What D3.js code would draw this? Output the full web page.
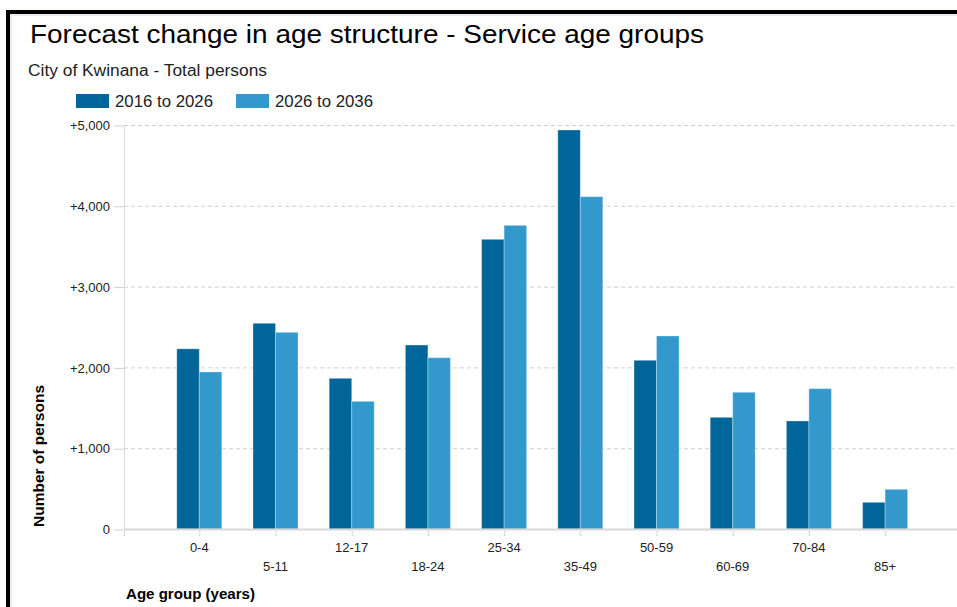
<!DOCTYPE html>
<html>
<head>
<meta charset="utf-8">
<script src="https://cdn.jsdelivr.net/npm/d3@7"></script>
<style>
  html, body { margin: 0; padding: 0; background: #fff; }
  svg { display: block; font-family: "Liberation Sans", Arial, sans-serif; }
</style>
</head>
<body>
<svg id="chart" width="957" height="607"></svg>
<script>
// Service age groups and forecast change in persons for each period
const categories = ["0-4", "5-11", "12-17", "18-24", "25-34", "35-49", "50-59", "60-69", "70-84", "85+"];
const seriesNames = ["2016 to 2026", "2026 to 2036"];
const change2016to2026 = [2230, 2546, 1865, 2277, 3585, 4938, 2088, 1382, 1337, 330];
const change2026to2036 = [1943, 2434, 1580, 2120, 3758, 4113, 2389, 1692, 1737, 491];
const yTicks = [0, 1000, 2000, 3000, 4000, 5000];
const seriesColors = ["#006699", "#3399cc"];

const svg = d3.select("#chart");
const W = 957, H = 607;

// Frame
svg.append("rect").attr("x", 0).attr("y", 0).attr("width", W).attr("height", H).attr("fill", "#fff");
svg.append("rect").attr("x", 6).attr("y", 10).attr("width", W - 6).attr("height", 4).attr("fill", "#000");
svg.append("rect").attr("x", 6).attr("y", 10).attr("width", 4).attr("height", H - 10).attr("fill", "#000");
svg.append("rect").attr("x", 10).attr("y", 14).attr("width", W - 10).attr("height", 2).attr("fill", "#e6edf3");
svg.append("rect").attr("x", 10).attr("y", 14).attr("width", 2).attr("height", H - 14).attr("fill", "#e6edf3");

// Titles
svg.append("text").attr("x", 30).attr("y", 43)
  .attr("font-size", 26.5).attr("fill", "#000")
  .attr("textLength", 674).attr("lengthAdjust", "spacingAndGlyphs")
  .text("Forecast change in age structure - Service age groups");
svg.append("text").attr("x", 28).attr("y", 76)
  .attr("font-size", 16).attr("fill", "#222")
  .attr("textLength", 239).attr("lengthAdjust", "spacingAndGlyphs")
  .text("City of Kwinana - Total persons");

// Legend
const legend = svg.append("g");
const legendX = [76, 236];
seriesNames.forEach((name, i) => {
  legend.append("rect").attr("x", legendX[i]).attr("y", 94).attr("width", 33).attr("height", 14)
    .attr("fill", seriesColors[i]);
  legend.append("text").attr("x", legendX[i] + 39).attr("y", 107)
    .attr("font-size", 16.5).attr("fill", "#222")
    .attr("textLength", 98).attr("lengthAdjust", "spacingAndGlyphs").text(name);
});

// Scales
const plotLeft = 124, plotRight = W, plotTop = 125, plotBottom = 529;
const step = 76.2;
const firstCenter = 199.3;
const x0 = d3.scaleBand().domain(categories)
  .range([firstCenter - step / 2, firstCenter + (categories.length - 0.5) * step])
  .paddingInner(0).paddingOuter(0);
const groupWidth = 45;
const x1 = d3.scaleBand().domain(seriesNames).range([0, groupWidth]);
const y = d3.scaleLinear().domain([0, 5000]).range([plotBottom, plotTop]);

// Gridlines
const grid = svg.append("g");
yTicks.filter(t => t > 0).forEach(t => {
  grid.append("line").attr("x1", plotLeft).attr("x2", plotRight)
    .attr("y1", y(t) + 0.5).attr("y2", y(t) + 0.5)
    .attr("stroke", "#cfcfcf").attr("stroke-dasharray", "4,3");
});

// Y axis
const yAxis = d3.axisLeft(y).tickValues(yTicks).tickSize(10).tickPadding(4)
  .tickFormat(d => d === 0 ? "0" : "+" + d3.format(",")(d));
const yg = svg.append("g").attr("transform", `translate(${plotLeft},0.5)`).call(yAxis);
yg.select(".domain").remove();
yg.selectAll(".tick line").attr("stroke", "#d0d0d0");
yg.selectAll(".tick text").attr("font-size", 13).attr("fill", "#222")
  .attr("font-family", "'Liberation Sans', Arial, sans-serif");
svg.append("line").attr("x1", plotLeft + 0.5).attr("x2", plotLeft + 0.5)
  .attr("y1", plotTop).attr("y2", plotBottom).attr("stroke", "#d8d8d8");

// Bars
const groups = svg.append("g").selectAll("g").data(categories).join("g")
  .attr("transform", c => `translate(${x0(c) + (x0.bandwidth() - groupWidth) / 2},0)`);
const seriesValues = [change2016to2026, change2026to2036];
groups.selectAll("rect")
  .data((c, ci) => seriesNames.map((s, si) => ({ s, si, v: seriesValues[si][ci] })))
  .join("rect")
  .attr("x", d => x1(d.s))
  .attr("width", x1.bandwidth())
  .attr("y", d => y(d.v))
  .attr("height", d => y(0) - y(d.v))
  .attr("fill", d => seriesColors[d.si])
  .attr("stroke", "#ffffff").attr("stroke-opacity", 0.3).attr("stroke-width", 1);

// X axis
svg.append("line").attr("x1", plotLeft).attr("x2", plotRight)
  .attr("y1", plotBottom + 0.5).attr("y2", plotBottom + 0.5)
  .attr("stroke", "#d8d8d8").attr("stroke-width", 2);
const xg = svg.append("g");
[plotLeft].concat(categories.map(c => x0(c) + x0.bandwidth() / 2)).forEach(px => {
  xg.append("line").attr("x1", px + 0.5).attr("x2", px + 0.5)
    .attr("y1", plotBottom + 2).attr("y2", plotBottom + 7)
    .attr("stroke", "#c8c8c8").attr("stroke-dasharray", "2,1");
});
categories.forEach((c, i) => {
  xg.append("text").attr("x", x0(c) + x0.bandwidth() / 2)
    .attr("y", i % 2 === 0 ? 551.5 : 570.5)
    .attr("text-anchor", "middle").attr("font-size", 13).attr("fill", "#222").text(c);
});

// Axis titles
svg.append("text").attr("x", 126).attr("y", 599)
  .attr("font-size", 14.5).attr("font-weight", "bold").attr("fill", "#000")
  .attr("textLength", 129).attr("lengthAdjust", "spacingAndGlyphs")
  .text("Age group (years)");
svg.append("text").attr("transform", "translate(44,527) rotate(-90)")
  .attr("font-size", 14).attr("font-weight", "bold").attr("fill", "#000")
  .attr("textLength", 142).attr("lengthAdjust", "spacingAndGlyphs")
  .text("Number of persons");
</script>
</body>
</html>
